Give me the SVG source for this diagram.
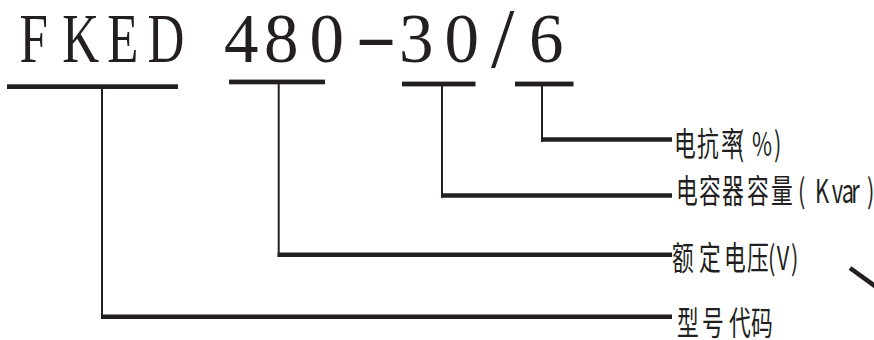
<svg xmlns="http://www.w3.org/2000/svg" width="874" height="340" viewBox="0 0 874 340">
  <style>
    .ink { fill: #231f20; }
    .code { font-family: "Liberation Serif", "Times New Roman", serif; font-size: 69px; fill: #231f20; }
    .label { font-family: "Noto Sans CJK SC", "Noto Sans", sans-serif; font-size: 33px; fill: #231f20; }
    .stem { stroke: #231f20; stroke-width: 2; fill: none; }
    .lead { stroke: #231f20; stroke-width: 4.6; fill: none; }
  </style>

  <rect width="874" height="340" fill="#ffffff"/>

  <!-- model code: letters are set condensed, digits at natural width -->
  <g id="model-code">
    <text class="code" transform="translate(0,62) scale(0.74,1)" x="26.2 84.3 145.1 199.2" y="0">FKED</text>
    <text class="code" x="224 264 309.6 355 399 444.6 491 529" y="62">480<tspan dy="-3" textLength="42" lengthAdjust="spacingAndGlyphs">-</tspan><tspan dy="3">30</tspan><tspan font-size="84" dy="5">/</tspan><tspan dy="-5">6</tspan></text>
  </g>

  <!-- underline bars marking each code segment -->
  <g id="seg-type"><rect class="ink" x="7" y="84.3" width="171" height="4.7"/></g>
  <g id="seg-voltage"><rect class="ink" x="229" y="79.6" width="96" height="4.7"/></g>
  <g id="seg-capacity"><rect class="ink" x="402" y="81.6" width="73.5" height="4.8"/></g>
  <g id="seg-reactance"><rect class="ink" x="515" y="81.6" width="58.5" height="4.8"/></g>

  <!-- labels -->
  <g id="label-reactance">
    <text class="label" transform="translate(675,155.5) scale(0.66,1)" x="-1.4 33.5 69.8 93.5 116.5 150" y="0">电抗率(%)</text>
  </g>
  <g id="label-capacity">
    <text class="label" transform="translate(677,202.5) scale(0.66,1)" x="-1.4 33.5 68.3 106.2 142.6 183.3 209.1 234.5 249.8 264.1 287.9" y="0">电容器容量(Kvar)</text>
  </g>
  <g id="label-voltage">
    <text class="label" transform="translate(673,270) scale(0.66,1)" x="-1.4 39.5 77.4 112.3 143.9 157.3 178.8" y="0">额定电压(V)</text>
  </g>
  <g id="label-type">
    <text class="label" transform="translate(678,335) scale(0.66,1)" x="-1.4 36.5 77.4 110.8" y="0">型号代码</text>
  </g>

  <!-- connectors: thin stem down from each bar, heavy leader across to its label -->
  <g id="connectors">
    <path class="stem" d="M102,89 V319"/>
    <path class="lead" d="M101,316.8 H672"/>
    <path class="stem" d="M278.7,84 V257"/>
    <path class="lead" d="M277.7,254.7 H672"/>
    <path class="stem" d="M442,86 V197.8"/>
    <path class="lead" d="M441,195.5 H672"/>
    <path class="stem" d="M542,86 V141.8"/>
    <path class="lead" d="M541,139.5 H672"/>
  </g>

  <!-- short diagonal stroke at the right edge -->
  <path class="lead" d="M850,268 L877,287.5"/>
</svg>
